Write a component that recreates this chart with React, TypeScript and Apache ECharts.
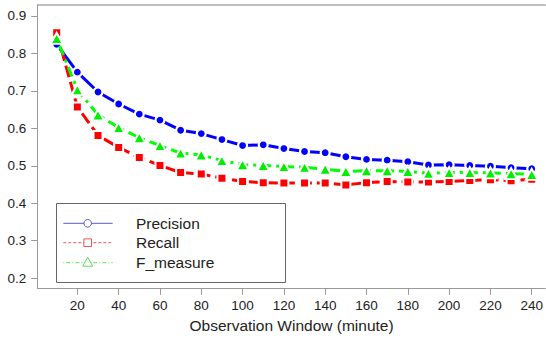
import React, { useEffect, useRef } from "react";
import * as echarts from "echarts";

const windows = [10, 20, 30, 40, 50, 60, 70, 80, 90, 100, 110, 120, 130, 140, 150, 160, 170, 180, 190, 200, 210, 220, 230, 240];
const precision = [0.824, 0.750, 0.697, 0.665, 0.638, 0.622, 0.595, 0.586, 0.570, 0.554, 0.556, 0.546, 0.538, 0.535, 0.524, 0.517, 0.515, 0.511, 0.502, 0.503, 0.501, 0.499, 0.495, 0.492];
const recall = [0.855, 0.657, 0.581, 0.549, 0.522, 0.501, 0.482, 0.478, 0.467, 0.458, 0.455, 0.454, 0.454, 0.454, 0.449, 0.455, 0.458, 0.457, 0.457, 0.458, 0.461, 0.463, 0.460, 0.464];
const fmeasure = [0.840, 0.703, 0.636, 0.602, 0.575, 0.554, 0.534, 0.529, 0.514, 0.503, 0.501, 0.498, 0.496, 0.491, 0.485, 0.487, 0.487, 0.485, 0.480, 0.482, 0.482, 0.481, 0.479, 0.477];
const xTicks = [20, 40, 60, 80, 100, 120, 140, 160, 180, 200, 220, 240];
const yTicks = [0.2, 0.3, 0.4, 0.5, 0.6, 0.7, 0.8, 0.9];
const seriesNames = ["Precision", "Recall", "F_measure"];

const FONT = "'Liberation Sans', Arial, sans-serif";

export default function App() {
  const ref = useRef<HTMLDivElement>(null);
  useEffect(() => {
    if (!ref.current) return;
    const chart = echarts.init(ref.current, undefined, { renderer: "svg" });
    const pairs = (ys: number[]) => windows.map((x, i) => [x, ys[i]]);
    const lx1 = 63.3, lx2 = 112.7, mx = 87.7, tx = 136;
    const ly = [223.3, 242.7, 262.7];
    const option: any = {
      animation: false,
      backgroundColor: "#fff",
      grid: { left: 37.7, right: 0, top: 4.7, bottom: 52.7, containLabel: false },
      xAxis: [
        {
          type: "value",
          min: 0.8,
          max: 246.6,
          position: "bottom",
          name: "Observation Window (minute)",
          nameLocation: "middle",
          nameGap: 29,
          nameTextStyle: { fontFamily: FONT, fontSize: 15.5, color: "#222" },
          axisLine: { show: true, lineStyle: { color: "#999", width: 1 } },
          axisTick: { show: true, length: 6.5, inside: false, customValues: xTicks, lineStyle: { color: "#999" } },
          axisLabel: { show: true, customValues: xTicks, margin: 10, fontFamily: FONT, fontSize: 13.5, color: "#222" },
          splitLine: { show: false },
        },
        {
          type: "value",
          min: 0.8,
          max: 246.6,
          position: "top",
          axisLine: { show: true, lineStyle: { color: "#aaa", width: 1.5 } },
          axisTick: { show: false },
          axisLabel: { show: false },
          splitLine: { show: false },
        },
      ],
      yAxis: {
        type: "value",
        min: 0.173,
        max: 0.93,
        axisLine: { show: true, lineStyle: { color: "#999", width: 1 } },
        axisTick: { show: true, length: 6.5, inside: false, customValues: yTicks, lineStyle: { color: "#999" } },
        axisLabel: {
          show: true,
          customValues: yTicks,
          margin: 11.5,
          fontFamily: FONT,
          fontSize: 13.5,
          color: "#222",
          formatter: (v: number) => v.toFixed(1),
        },
        splitLine: { show: false },
      },
      series: [
        {
          name: seriesNames[0],
          type: "line",
          data: pairs(precision),
          symbol: "circle",
          symbolSize: 9,
          lineStyle: { color: "#0000ff", width: 3, type: "solid" },
          itemStyle: { color: "#0000ff", borderColor: "#fff", borderWidth: 2.2 },
          z: 2,
        },
        {
          name: seriesNames[1],
          type: "line",
          data: pairs(recall),
          symbol: "rect",
          symbolSize: 9,
          lineStyle: { color: "#ff0000", width: 3, type: [12, 5] },
          itemStyle: { color: "#ff0000", borderColor: "#fff", borderWidth: 2 },
          z: 3,
        },
        {
          name: seriesNames[2],
          type: "line",
          data: pairs(fmeasure),
          symbol: "triangle",
          symbolSize: [12, 11],
          lineStyle: { color: "#00ff00", width: 3, type: [3, 5, 10, 5] },
          itemStyle: { color: "#00ee00", borderColor: "#fff", borderWidth: 2 },
          z: 4,
        },
      ],
      graphic: [
        {
          type: "rect",
          shape: { x: 56.5, y: 203.5, width: 229, height: 79 },
          style: { fill: "#fff", stroke: "#666", lineWidth: 1 },
          z: 100,
        },
        {
          type: "line",
          shape: { x1: lx1, y1: ly[0], x2: lx2, y2: ly[0] },
          style: { stroke: "#5a5ac8", lineWidth: 1 },
          z: 101,
        },
        {
          type: "circle",
          shape: { cx: mx, cy: ly[0], r: 3.8 },
          style: { fill: "#fff", stroke: "#5a5ac8", lineWidth: 1 },
          z: 102,
        },
        {
          type: "line",
          shape: { x1: lx1, y1: ly[1], x2: lx2, y2: ly[1] },
          style: { stroke: "#e05a5a", lineWidth: 1, lineDash: [3, 2] },
          z: 101,
        },
        {
          type: "rect",
          shape: { x: mx - 3.8, y: ly[1] - 3.8, width: 7.6, height: 7.6 },
          style: { fill: "#fff", stroke: "#e05a5a", lineWidth: 1 },
          z: 102,
        },
        {
          type: "line",
          shape: { x1: lx1, y1: ly[2], x2: lx2, y2: ly[2] },
          style: { stroke: "#5ae05a", lineWidth: 1, lineDash: [1, 2, 4, 2] },
          z: 101,
        },
        {
          type: "polygon",
          shape: { points: [[mx, ly[2] - 5.5], [mx + 5, ly[2] + 3.5], [mx - 5, ly[2] + 3.5]] },
          style: { fill: "#fff", stroke: "#5ae05a", lineWidth: 1 },
          z: 102,
        },
        ...seriesNames.map((n, i) => ({
          type: "text",
          x: tx,
          y: ly[i],
          style: { text: n, fontFamily: FONT, fontSize: 15.5, fill: "#222", textVerticalAlign: "middle", verticalAlign: "middle" },
          z: 103,
        })),
      ],
    };
    chart.setOption(option);
    return () => chart.dispose();
  }, []);
  return <div ref={ref} style={{ position: "fixed", left: 0, top: 0, width: 546, height: 341 }} />;
}
